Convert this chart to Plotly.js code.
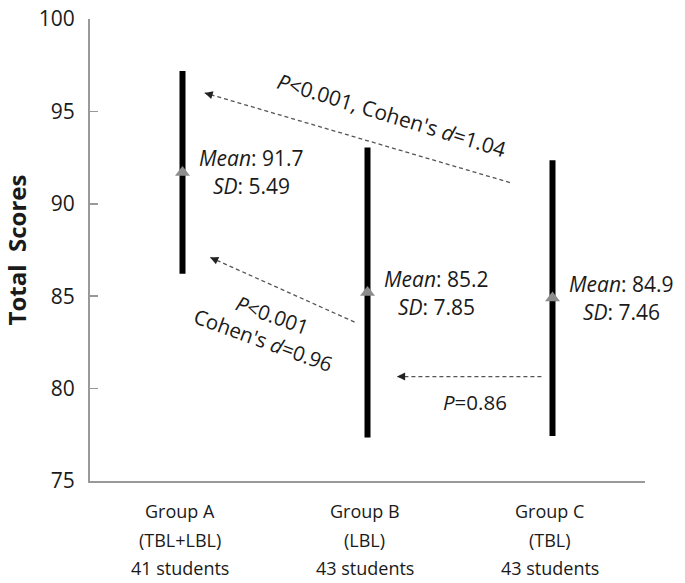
<!DOCTYPE html>
<html>
<head>
<meta charset="utf-8">
<script src="https://cdn.plot.ly/plotly-3.0.1.min.js"></script>
<style>html,body{margin:0;padding:0;background:#fff;}</style>
</head>
<body>
<div id="chart" style="width:685px;height:583px;"></div>
<script>
// ---- data ----
const groups = ['Group A', 'Group B', 'Group C'];
const methods = ['(TBL+LBL)', '(LBL)', '(TBL)'];
const students = ['41 students', '43 students', '43 students'];
const means = [91.7, 85.2, 84.9];
const sds = [5.49, 7.85, 7.46];
const yTicks = [75, 80, 85, 90, 95, 100];

// comparison arrows (head -> tail, in axis units) and labels
const compLabels = ["<i>P</i>&lt;0.001, Cohen's <i>d</i>=1.04", "<i>P</i>&lt;0.001<br>Cohen's <i>d</i>=0.96", "<i>P</i>=0.86"];
const arrowHeadX = [0.12, 0.15, 1.16];
const arrowHeadY = [96.0, 87.1, 80.65];
const arrowTailX = [1.77, 0.93, 1.94];
const arrowTailY = [91.15, 83.6, 80.65];
const labelX = [1.13, 0.46, 1.58];
const labelY = [94.8, 83.3, 79.25];
const labelAngle = [17, 20, 0];
const labelSize = [21, 20.5, 20.5];

const xIdx = groups.map((g, i) => i);
const FONT = 'Open Sans, Liberation Sans, sans-serif';
const TXT = '#1a1a1a';

const traces = [{
  type: 'scatter', mode: 'markers',
  x: xIdx, y: means,
  marker: {symbol: 'triangle-up', size: 13, color: '#8c8c8c'},
  error_y: {type: 'data', array: sds, visible: true, thickness: 6, width: 0, color: '#000'},
  hoverinfo: 'skip', showlegend: false
}];

const annotations = [];
const shapes = [];
// group labels under axis
const labelRows = [groups, methods, students];
labelRows.forEach((row, r) => {
  row.forEach((t, i) => {
    annotations.push({x: i, y: 0, xref: 'x', yref: 'paper', yanchor: 'middle',
      yshift: -30 - 28.5 * r, xshift: -3, text: t, showarrow: false,
      font: {family: FONT, size: 18, color: TXT}});
  });
});
// mean / sd labels
means.forEach((m, i) => {
  annotations.push({x: i, y: m, xref: 'x', yref: 'y', xshift: 69, yshift: 14,
    text: '<i>Mean</i>: ' + m.toFixed(1), showarrow: false,
    font: {family: FONT, size: 21, color: TXT}});
  annotations.push({x: i, y: m, xref: 'x', yref: 'y', xshift: 69, yshift: -14,
    text: '<i>SD</i>: ' + sds[i].toFixed(2), showarrow: false,
    font: {family: FONT, size: 21, color: TXT}});
});
// comparisons
const pxX = 185, pxY = 18.5;
compLabels.forEach((lab, k) => {
  shapes.push({type: 'line', xref: 'x', yref: 'y',
    x0: arrowTailX[k], y0: arrowTailY[k], x1: arrowHeadX[k], y1: arrowHeadY[k],
    line: {color: '#555', width: 1.3, dash: '4px,3px'}});
  const dx = (arrowTailX[k] - arrowHeadX[k]) * pxX;
  const dy = -(arrowTailY[k] - arrowHeadY[k]) * pxY;
  const L = Math.hypot(dx, dy);
  annotations.push({x: arrowHeadX[k], y: arrowHeadY[k], xref: 'x', yref: 'y',
    ax: 7 * dx / L, ay: 7 * dy / L, text: '', showarrow: true,
    arrowhead: 2, arrowsize: 1, arrowwidth: 1.6, arrowcolor: '#222'});
  annotations.push({x: labelX[k], y: labelY[k], xref: 'x', yref: 'y',
    text: lab, showarrow: false, textangle: labelAngle[k],
    font: {family: FONT, size: labelSize[k], color: TXT}});
});

const layout = {
  width: 685, height: 583,
  margin: {l: 90, r: 40, t: 19, b: 102},
  paper_bgcolor: '#fff', plot_bgcolor: '#fff',
  showlegend: false,
  xaxis: {range: [-0.5, 2.5], showgrid: false, zeroline: false, showticklabels: false,
    ticks: '', showline: true, linecolor: '#999', linewidth: 2, fixedrange: true},
  yaxis: {range: [75, 100], tickvals: yTicks, ticktext: yTicks.map(String),
    showgrid: false, zeroline: false, showline: true, linecolor: '#999', linewidth: 2,
    ticks: 'inside', ticklen: 8, tickwidth: 1.5, tickcolor: '#999',
    ticklabelstandoff: 9,
    tickfont: {family: FONT, size: 21, color: TXT},
    title: {text: 'Total  Scores', standoff: 9, font: {family: FONT, size: 24, color: TXT, weight: 'bold'}}},
  shapes: shapes,
  annotations: annotations
};
Plotly.newPlot('chart', traces, layout, {displayModeBar: false, staticPlot: true});
</script>
</body>
</html>
